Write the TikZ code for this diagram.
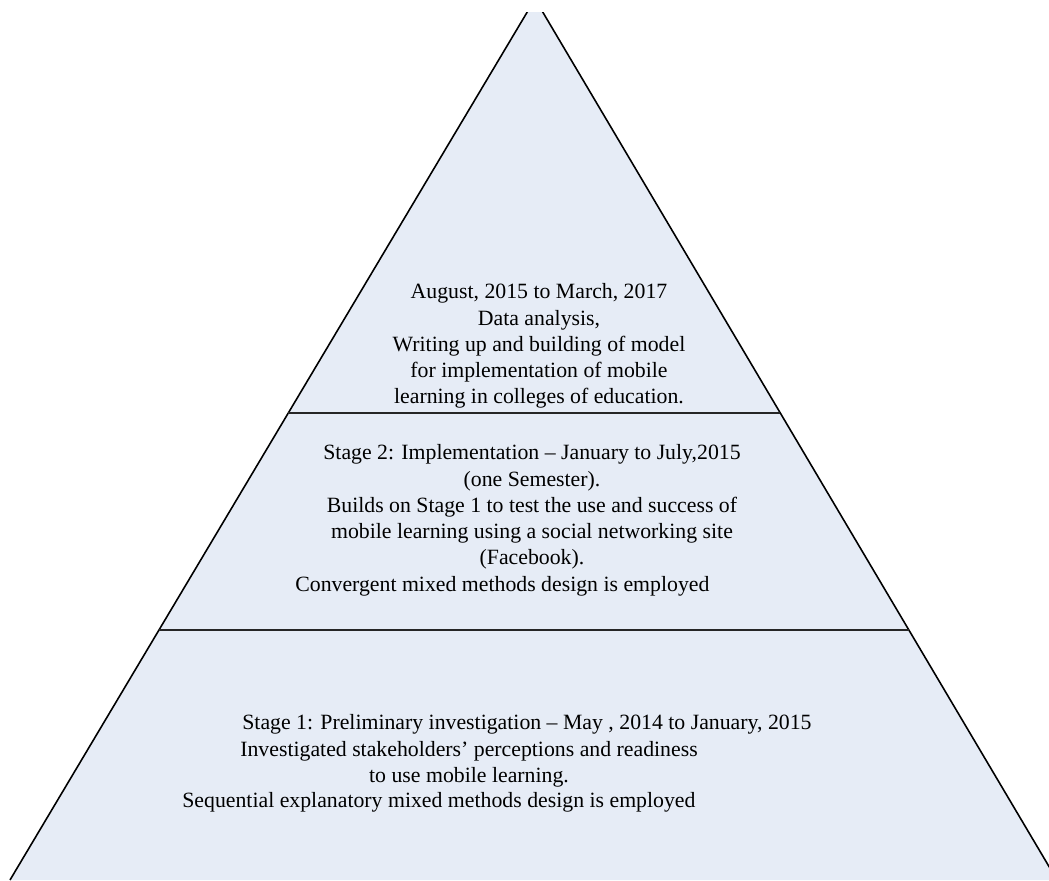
\documentclass[tikz,border=0pt]{standalone}
\usepackage{fontspec}
\setmainfont{Liberation Serif}
\usetikzlibrary{calc}
\definecolor{pyrfill}{RGB}{230,236,246}
\tikzset{
  edge/.style={line width=0.9pt,black},
  divider/.style={line width=0.8pt,black!85},
  txt/.style={font=\fontsize{12.4}{14.8}\selectfont,inner sep=0pt},
  block/.style={txt,align=center,anchor=base}, % base = last line
  lead/.style={txt,anchor=base west},
}

\begin{document}
\begin{tikzpicture}[x=0.02cm,y=-0.02cm]
  \useasboundingbox (0,0) rectangle (1049,880);
  \coordinate (apex) at (535,-1);
  \coordinate (bl) at (10,880);
  \coordinate (br) at (1057,880);
  % pyramid, cut by the frame at the top
  \begin{scope}
    \clip (0,12) rectangle (1049,880);
    \fill[pyrfill] (apex) -- (bl) -- (br) -- cycle;
    \draw[edge] (bl) -- (apex) -- (br);
  \end{scope}
  % stage dividers
  \coordinate (d1l) at ($(apex)!0.47!(bl)$);
  \coordinate (d1r) at ($(apex)!0.47!(br)$);
  \coordinate (d2l) at ($(apex)!0.716!(bl)$);
  \coordinate (d2r) at ($(apex)!0.716!(br)$);
  \draw[divider] (d1l) -- (d1r);
  \draw[divider] (d2l) -- (d2r);
  % top: analysis and write-up
  \node[block] (top) at (539,403) {August, 2015 to March, 2017\\Data analysis,\\
    Writing up and building of model\\for implementation of mobile\\
    learning in colleges of education.};
  % stage 2
  \node[block] (mid) at (532,564) {Stage 2: Implementation -- January to July,2015\\
    (one Semester).\\Builds on Stage 1 to test the use and success of\\
    mobile learning using a social networking site\\(Facebook).};
  \node[lead] (midnote) at (295,591) {Convergent mixed methods design is employed};
  % stage 1
  \node[lead] (low) at (242,729) {Stage 1: Preliminary investigation -- May , 2014 to January, 2015};
  \node[block] (lowtxt) at (469,782) {Investigated stakeholders' perceptions and readiness\\
    to use mobile learning.};
  \node[lead] (lownote) at (182,807) {Sequential explanatory mixed methods design is employed};
\end{tikzpicture}
\end{document}
